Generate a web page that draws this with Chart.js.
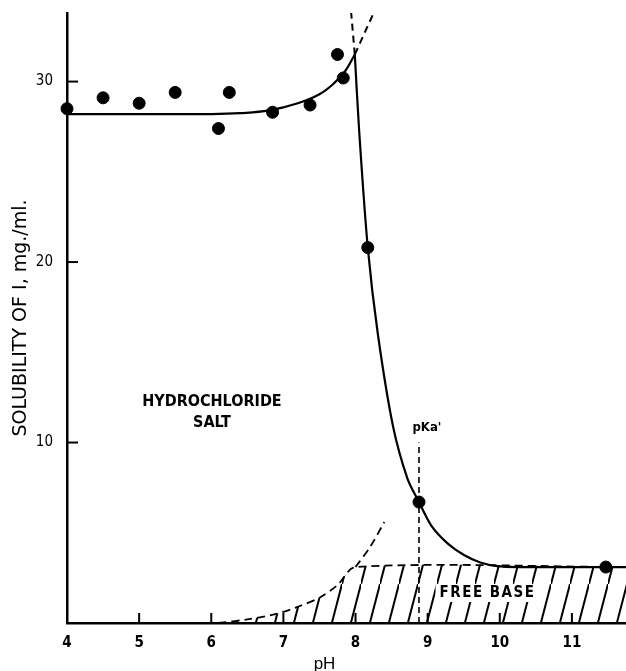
<!DOCTYPE html>
<html>
<head>
<meta charset="utf-8">
<script src="https://cdn.jsdelivr.net/npm/chart.js@4"></script>
<style>
  body { margin: 0; background: #fff; }
  canvas { display: block; }
</style>
</head>
<body>
<canvas id="chart" width="626" height="671"></canvas>
<script>
// measured points (pH, solubility mg/ml)
const phObs = [4.0, 4.5, 5.0, 5.5, 6.1, 6.25, 6.85, 7.37, 7.75, 7.83, 8.17, 8.88, 11.47];
const solObs = [28.5, 29.1, 28.8, 29.4, 27.4, 29.4, 28.3, 28.7, 31.5, 30.2, 20.8, 6.7, 3.1];

// salt curve (left branch)
const phSalt = [4.0, 5.0, 6.0, 6.4, 6.8, 7.2, 7.5, 7.7, 7.86, 7.99];
const solSalt = [28.2, 28.2, 28.2, 28.25, 28.4, 28.8, 29.3, 29.9, 30.6, 31.5];

// base curve (right branch)
const phBase = [7.99, 8.05, 8.17, 8.31, 8.52, 8.72, 8.88, 9.05, 9.28, 9.51, 9.73, 9.96, 10.24, 11.75];
const solBase = [31.5, 27.3, 20.8, 16.0, 10.9, 8.0, 6.7, 5.4, 4.4, 3.75, 3.35, 3.15, 3.1, 3.1];

// dashed extensions at the top
const phUpBase = [7.99, 7.94];
const solUpBase = [31.5, 33.8];
const phUpSalt = [7.99, 8.24];
const solUpSalt = [31.5, 33.7];

// lower dashed curve
const phLow = [6.1, 6.5, 6.9, 7.2, 7.5, 7.75, 8.0, 8.2, 8.4];
const solLow = [0.0, 0.2, 0.5, 0.9, 1.4, 2.1, 3.1, 4.2, 5.6];

// free base level and pKa'
const baseSol = 3.1;
const pKa = 8.88;
const pKaTop = 10.0;

// axes
const xMin = 4, xMax = 11.75;
const yMin = 0, yMax = 33.8;
const xTicks = [4, 5, 6, 7, 8, 9, 10, 11];
const yTicks = [10, 20, 30];

// text labels [text, pH, solubility, size]
const labels = [
    ['HYDROCHLORIDE', 6.01, 12.24, 16],
    ['SALT', 6.01, 11.08, 16],
    ["pKa'", 8.99, 10.8, 13],
    ['FREE BASE', 9.83, 1.66, 15]
];

const pts = (xs, ys) => xs.map((x, i) => ({ x: x, y: ys[i] }));

// hatch pattern
function makeHatch() {
    const w = 19, h = 73;
    const c = document.createElement('canvas');
    c.width = w; c.height = h;
    const g = c.getContext('2d');
    g.strokeStyle = '#000';
    g.lineWidth = 2;
    [[0, 0], [-w, h], [w, -h]].forEach(([dx, dy]) => {
        g.beginPath();
        g.moveTo(dx, h + dy);
        g.lineTo(w + dx, dy);
        g.stroke();
    });
    return g.createPattern(c, 'repeat');
}

const hatchData = pts(phLow, solLow).filter(p => p.y <= baseSol).concat([{ x: xMax, y: baseSol }]);

const sketchPlugin = {
    id: 'sketch',
    afterDatasetsDraw(chart) {
        const ctx = chart.ctx;
        const xs = chart.scales.x, ys = chart.scales.y;
        const area = chart.chartArea;
        ctx.save();
        ctx.strokeStyle = '#000';
        ctx.lineWidth = 2;
        // inner tick marks
        yTicks.forEach(v => {
            const py = ys.getPixelForValue(v);
            ctx.beginPath();
            ctx.moveTo(area.left, py);
            ctx.lineTo(area.left + 11, py);
            ctx.stroke();
        });
        xTicks.slice(1).forEach(v => {
            const px = xs.getPixelForValue(v);
            ctx.beginPath();
            ctx.moveTo(px, area.bottom);
            ctx.lineTo(px, area.bottom - 10);
            ctx.stroke();
        });
        // labels
        ctx.textAlign = 'center';
        ctx.textBaseline = 'middle';
        labels.forEach(([t, x, y, s]) => {
            const px = xs.getPixelForValue(x), py = ys.getPixelForValue(y);
            ctx.font = 'bold ' + s + "px 'Liberation Sans Narrow', 'DejaVu Sans Condensed', sans-serif";
            if (t === 'FREE BASE') {
                ctx.letterSpacing = '1.5px';
                const w = ctx.measureText(t).width;
                ctx.fillStyle = '#fff';
                ctx.fillRect(px - w / 2 - 4, py - s * 0.6, w + 8, s * 1.2);
            } else {
                ctx.letterSpacing = '0px';
            }
            ctx.fillStyle = '#000';
            ctx.fillText(t, px, py);
        });
        ctx.letterSpacing = '0px';
        // x axis title
        ctx.font = "17px 'Liberation Sans', Arial, sans-serif";
        ctx.fillText('pH', xs.getPixelForValue(7.57), area.bottom + 41);
        ctx.restore();
    }
};

const ctx = document.getElementById('chart').getContext('2d');
new Chart(ctx, {
    data: {
        datasets: [
            {
                type: 'line',
                data: hatchData,
                borderColor: '#000',
                borderWidth: 1.8,
                borderDash: [8, 5],
                backgroundColor: makeHatch(),
                fill: 'origin',
                pointRadius: 0,
                tension: 0.3,
                order: 5
            },
            {
                type: 'line',
                data: pts(phLow, solLow).filter(p => p.y >= baseSol),
                borderColor: '#000',
                borderWidth: 1.8,
                borderDash: [8, 5],
                fill: false,
                pointRadius: 0,
                tension: 0.3,
                order: 4
            },
            {
                type: 'line',
                data: [{ x: pKa, y: 0 }, { x: pKa, y: pKaTop }],
                borderColor: '#000',
                borderWidth: 1.6,
                borderDash: [6, 4],
                fill: false,
                pointRadius: 0,
                order: 4
            },
            {
                type: 'line',
                data: pts(phUpBase, solUpBase),
                borderColor: '#000',
                borderWidth: 2,
                borderDash: [7, 5],
                fill: false,
                pointRadius: 0,
                clip: false,
                order: 3
            },
            {
                type: 'line',
                data: pts(phUpSalt, solUpSalt),
                borderColor: '#000',
                borderWidth: 2,
                borderDash: [7, 5],
                fill: false,
                pointRadius: 0,
                clip: false,
                order: 3
            },
            {
                type: 'line',
                data: pts(phSalt, solSalt),
                borderColor: '#000',
                borderWidth: 2.2,
                fill: false,
                pointRadius: 0,
                tension: 0.4,
                order: 2
            },
            {
                type: 'line',
                data: pts(phBase, solBase),
                borderColor: '#000',
                borderWidth: 2.2,
                fill: false,
                pointRadius: 0,
                tension: 0.3,
                order: 2
            },
            {
                type: 'scatter',
                data: pts(phObs, solObs),
                backgroundColor: '#000',
                borderColor: '#000',
                pointRadius: 6,
                clip: false,
                order: 1
            }
        ]
    },
    options: {
        responsive: false,
        animation: false,
        layout: { autoPadding: false, padding: { top: 13, right: 0, left: 0, bottom: 0 } },
        plugins: {
            legend: { display: false },
            tooltip: { enabled: false }
        },
        scales: {
            x: {
                type: 'linear',
                min: xMin,
                max: xMax,
                afterFit: s => { s.height = 48; s.paddingLeft = 0; s.paddingRight = 0; },
                afterBuildTicks: s => { s.ticks = xTicks.map(v => ({ value: v })); },
                border: { display: true, color: '#000', width: 2.5 },
                grid: { display: false, drawTicks: false },
                ticks: {
                    autoSkip: false,
                    maxRotation: 0,
                    padding: 11,
                    color: '#000',
                    font: { family: "'Liberation Sans Narrow', 'DejaVu Sans Condensed', sans-serif", size: 15, weight: 'bold' }
                }
            },
            y: {
                type: 'linear',
                min: yMin,
                max: yMax,
                afterFit: s => { s.width = 67; s.paddingTop = 0; s.paddingBottom = 0; },
                afterBuildTicks: s => { s.ticks = yTicks.map(v => ({ value: v })); },
                border: { display: true, color: '#000', width: 2.5 },
                grid: { display: false, drawTicks: false },
                ticks: {
                    padding: 14,
                    color: '#000',
                    font: { family: "'Liberation Sans Narrow', 'DejaVu Sans Condensed', sans-serif", size: 15 }
                },
                title: {
                    display: true,
                    text: 'SOLUBILITY OF I, mg./ml.',
                    color: '#000',
                    padding: { top: 10, bottom: 0 },
                    font: { family: "'DejaVu Sans', sans-serif", size: 19 }
                }
            }
        }
    },
    plugins: [sketchPlugin]
});
</script>
</body>
</html>
